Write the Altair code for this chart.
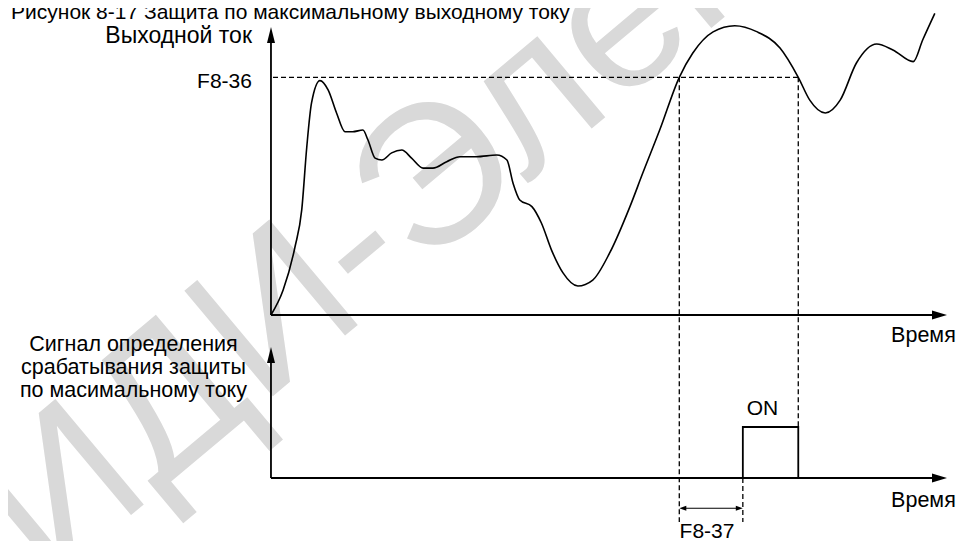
import altair as alt
import pandas as pd

# ---------------- data (time in arbitrary units, current in % of F8-36) ----------------
TITLE = "Рисунок 8-17 Защита по максимальному выходному току"
Y_LABEL_TOP = "Выходной ток"
THRESH_LABEL = "F8-36"
DELAY_LABEL = "F8-37"
TIME_LABEL = "Время"
ON_LABEL = "ON"
SIGNAL_LABEL = ["Сигнал определения", "срабатывания защиты", "по масимальному току"]
WATERMARK = "СИДИ-Электро"

curve_t = [0, 1.8, 3.55, 4.55, 5.3, 6.0, 7.25, 8.45, 9.7, 10.95, 12.1, 13.6, 14.35,
           15.4, 16.4, 17.85, 19.35, 20.8, 22.5, 23.95, 26.0, 27.95, 30.4, 33.4, 34.9,
           35.8, 36.8, 38.6, 40.0, 41.5, 43.2, 45.4, 47.6, 50.1, 53.1, 55.0, 57.5,
           60.4, 62.4, 65.4, 68.6, 71.85, 75.3, 78.0, 79.7, 82.0, 84.2, 86.6, 89.6,
           92.0, 95.0, 96.4, 98.2]
curve_c = [0, 10.5, 28.6, 44.2, 70.8, 89.2, 98.6, 94.7, 85.0, 77.1, 77.1, 77.8, 73.6,
           66.0, 65.2, 68.2, 69.4, 66.0, 61.8, 61.8, 64.5, 66.6, 66.6, 67.3, 65.2,
           55.5, 48.4, 45.6, 38.7, 27.3, 17.7, 12.2, 14.7, 26.1, 45.6, 59.7, 77.8,
           100, 110.2, 119.1, 121.7, 119.2, 112.3, 100, 90.4, 85.0, 90.4, 106.0, 114.0,
           111.5, 106.6, 115.7, 126.9]

THRESHOLD = 100.0       # F8-36 level
T_EXCEED = 60.4         # current rises above F8-36
T_SIGNAL_ON = 69.8      # after F8-37 delay
T_DROP = 78.0           # current falls below F8-36
T_AXIS_END = 100.0

pulse_t = [T_SIGNAL_ON, T_SIGNAL_ON, T_DROP, T_DROP]
pulse_v = [0, 1, 1, 0]

# ---------------- layout constants ----------------
SIG_BASE = -68.57   # where the signal panel's time axis sits (current units)
SIG_AMP = 21.45     # height of ON level
C_TOP_TIP = 121.2
SIG_TOP_TIP = -13.46
DASH_BOTTOM = -87.1
DELAY_ARROW_Y = -81.3

xs = alt.Scale(domain=[-38.9, 101.48], nice=False, zero=False)
ys = alt.Scale(domain=[-95.08, 129.15], nice=False, zero=False)
FONT = "Liberation Sans"


def X(f="x"):
    return alt.X(f, type="quantitative", scale=xs, axis=None)


def Y(f="y"):
    return alt.Y(f, type="quantitative", scale=ys, axis=None)


def rules(rows, dash=None, width=1.8):
    df = pd.DataFrame(rows, columns=["x", "y", "x2", "y2"])
    kw = dict(color="black", strokeWidth=width)
    if dash:
        kw["strokeDash"] = dash
    return alt.Chart(df).mark_rule(**kw).encode(
        x=X("x"), y=Y("y"), x2="x2:Q", y2="y2:Q")


def heads(rows, shape, size):
    df = pd.DataFrame(rows, columns=["x", "y"])
    return alt.Chart(df).mark_point(shape=shape, size=size, filled=True, color="black",
                                    opacity=1, strokeWidth=0).encode(x=X("x"), y=Y("y"))


def texts(rows, align, size=21, **kw):
    df = pd.DataFrame(rows, columns=["x", "y", "label"])
    return alt.Chart(df).mark_text(align=align, baseline="alphabetic", font=FONT,
                                   fontSize=size, color="black", **kw).encode(
        x=X("x"), y=Y("y"), text="label:N")


# watermark
wm = alt.Chart(pd.DataFrame({"x": [-55.3], "y": [-133.8], "label": [WATERMARK]})).mark_text(
    align="left", baseline="middle", angle=320, fontSize=200, fontWeight="normal",
    font=FONT, color="#d9d9d9").encode(x=X("x"), y=Y("y"), text="label:N")

# axes
axes = rules([
    [0, 0, 0, 116],
    [0, 0, 98, 0],
    [0, SIG_BASE, 0, SIG_TOP_TIP - 5],
    [0, SIG_BASE, 98, SIG_BASE],
], width=1.8)

up_heads = heads([[0, C_TOP_TIP], [0, SIG_TOP_TIP]], "M0,0L0.5,2L-0.5,2Z", 256)
right_heads = heads([[T_AXIS_END, 0], [T_AXIS_END, SIG_BASE]], "M0,0L-2,-0.6L-2,0.6Z", 225)

# dashed guides
dashed = rules([
    [0.3, THRESHOLD, T_DROP, THRESHOLD],
    [T_EXCEED, THRESHOLD, T_EXCEED, DASH_BOTTOM],
    [T_DROP, THRESHOLD, T_DROP, SIG_BASE + SIG_AMP],
    [T_SIGNAL_ON, SIG_BASE, T_SIGNAL_ON, DASH_BOTTOM],
], dash=[5, 3], width=1.3)

# delay arrow
delay = rules([[T_EXCEED + 0.6, DELAY_ARROW_Y, T_SIGNAL_ON - 0.6, DELAY_ARROW_Y]], width=1.2)
delay_l = heads([[T_EXCEED, DELAY_ARROW_Y]], "M0,0L2,-0.7L2,0.7Z", 49)
delay_r = heads([[T_SIGNAL_ON, DELAY_ARROW_Y]], "M0,0L-2,-0.7L-2,0.7Z", 49)

# current curve
curve = alt.Chart(pd.DataFrame({"x": curve_t, "y": curve_c})).mark_line(
    color="black", strokeWidth=1.6, interpolate="monotone").encode(x=X("x"), y=Y("y"))

# pulse
pulse_df = pd.DataFrame({"x": pulse_t, "v": pulse_v, "i": range(len(pulse_t))})
pulse = alt.Chart(pulse_df).transform_calculate(
    y=f"{SIG_BASE} + datum.v * {SIG_AMP}").mark_line(color="black", strokeWidth=1.8).encode(
    x=X("x"), y=Y("y"), order="i:Q")

# labels
ylab_txt = texts([[-2.81, 114.3, Y_LABEL_TOP]], "right", size=23)
thr_txt = texts([[-2.81, 95.4, THRESH_LABEL]], "right", size=21)
title_txt = texts([[44.2, 124.5, TITLE]], "right", size=21)
time_txt = texts([
    [101.3, -11.36, TIME_LABEL],
    [101.3, -80.8, TIME_LABEL],
], "right", size=21.5)
center_txt = texts([
    [72.7, -42.07, ON_LABEL],
    [64.5, -93.8, DELAY_LABEL],
], "center", size=21)
sig_label = alt.Chart(pd.DataFrame({"x": [-20.34], "y": [-15.14]})).mark_text(
    text=SIGNAL_LABEL, align="center", baseline="alphabetic", lineHeight=23,
    font=FONT, fontSize=21.5, color="black").encode(x=X("x"), y=Y("y"))

chart = alt.layer(
    wm, dashed, axes, up_heads, right_heads, delay, delay_l, delay_r,
    curve, pulse, ylab_txt, thr_txt, title_txt, time_txt, center_txt, sig_label
).properties(
    width=949, height=533, padding=0,
    autosize=alt.AutoSizeParams(type="none"),
    background="white",
).configure_view(stroke=None)

chart.save("out.html", embed_options={"renderer": "svg", "actions": False})
